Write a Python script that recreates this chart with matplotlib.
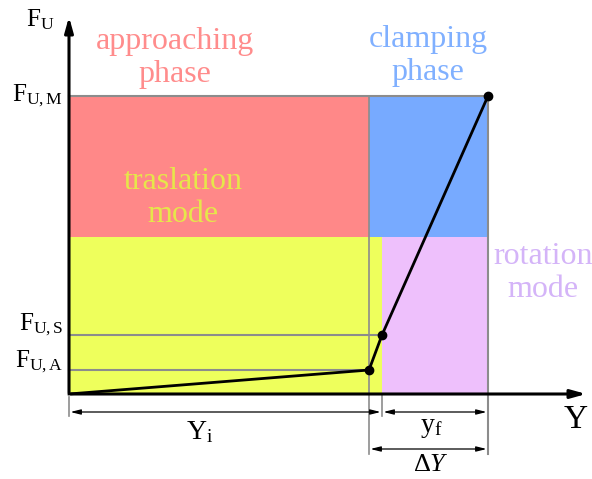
import matplotlib
matplotlib.use("Agg")
import matplotlib.pyplot as plt
from matplotlib.patches import Rectangle

plt.rcParams['font.family'] = ['Liberation Serif', 'DejaVu Serif']
plt.rcParams['mathtext.fontset'] = 'custom'
plt.rcParams['mathtext.rm'] = 'Liberation Serif'
plt.rcParams['mathtext.it'] = 'Liberation Serif:italic'

# curve points (Y, F_U), schematic units
curve_y = [0, 300, 313, 419]
curve_f = [0, 24, 59, 298]
# levels
f_levels = {'A': 24, 'S': 59, 'M': 298}
f_mode = 157           # switch translation -> rotation mode
y_i = 300              # end of approaching phase
y_s = 313              # start of rotation mode
y_m = 419              # end of stroke

red = '#ff8888'
blue = '#77aaff'
yellow = '#eeff5c'
purple = '#eec0fc'
grey = '#8c8c8c'

fig = plt.figure(figsize=(5.92, 4.79), dpi=100)
ax = fig.add_axes([0, 0, 1, 1])
ax.set_xlim(-69, 523)
ax.set_ylim(-85, 394)
ax.axis('off')

# regions
ax.add_patch(Rectangle((0, f_mode), y_i, f_levels['M'] - f_mode, fc=red, ec='none'))
ax.add_patch(Rectangle((y_i, f_mode), y_m - y_i, f_levels['M'] - f_mode, fc=blue, ec='none'))
ax.add_patch(Rectangle((0, 0), y_s, f_mode, fc=yellow, ec='none'))
ax.add_patch(Rectangle((y_s, 0), y_m - y_s, f_mode, fc=purple, ec='none'))

# grey guide lines
ax.plot([0, y_m], [f_levels['M'], f_levels['M']], color=grey, lw=1.5)
ax.plot([0, y_s], [f_levels['S'], f_levels['S']], color=grey, lw=1.5)
ax.plot([0, y_i], [f_levels['A'], f_levels['A']], color=grey, lw=1.5)
ax.plot([y_i, y_i], [f_levels['M'], -60], color=grey, lw=1.2)
ax.plot([y_m, y_m], [f_levels['M'], -60], color=grey, lw=1.5)
ax.plot([y_s, y_s], [0, -22], color=grey, lw=1.2)
ax.plot([0, 0], [-3, -22], color=grey, lw=1.2)

# curve
ax.plot(curve_y, curve_f, color='black', lw=2, zorder=5)
ax.plot(curve_y[1:], curve_f[1:], 'o', color='black', ms=6, zorder=6)

# main axes
ax.annotate('', xy=(0, 380), xytext=(0, -1),
            arrowprops=dict(arrowstyle='-|>,head_length=0.9,head_width=0.25', color='black', lw=2.2))
ax.annotate('', xy=(520, 0), xytext=(-1, 0),
            arrowprops=dict(arrowstyle='-|>,head_length=0.9,head_width=0.25', color='black', lw=2.2))

# dimension arrows
dim = dict(arrowstyle='<|-|>,head_length=0.6,head_width=0.15', color='black', lw=0.9, shrinkA=1, shrinkB=1)
ax.annotate('', xy=(0, -18), xytext=(y_s, -18), arrowprops=dim)
ax.annotate('', xy=(y_s, -18), xytext=(y_m, -18), arrowprops=dim)
ax.annotate('', xy=(y_i, -55), xytext=(y_m, -55), arrowprops=dim)

# labels
ax.text(131, -38, r'$\mathrm{Y}_{\mathrm{i}}$', fontsize=20, ha='center', va='center')
ax.text(362, -34, r'$\mathrm{y}_{\mathrm{f}}$', fontsize=20, ha='center', va='center')
ax.text(362, -71, r'$\Delta Y$', fontsize=19, ha='center', va='center')
ax.text(507, -26, 'Y', fontsize=24, ha='center', va='center')
ax.text(-29, 374, r'$\mathrm{F}_{\mathrm{U}}$', fontsize=18, ha='center', va='center')
for key, lab_y in [('M', f_levels['M']), ('S', f_levels['S'] + 10), ('A', f_levels['A'] + 8)]:
    ax.text(-6, lab_y, r'$\mathrm{F}_{\mathrm{U,%s}}$' % key, fontsize=18, ha='right', va='center')

# region names
txt = dict(fontsize=23, ha='center', va='center', linespacing=1.18)
ax.text(106, 336, 'approaching\nphase', color='#ff8c8c', **txt)
ax.text(359, 338, 'clamping\nphase', color='#80b0ff', **txt)
ax.text(114, 196, 'traslation\nmode', color='#e6e64a', **txt)
ax.text(474, 121, 'rotation\nmode', color='#d4b4f8', **txt)

fig.savefig('out.png', dpi=100)
